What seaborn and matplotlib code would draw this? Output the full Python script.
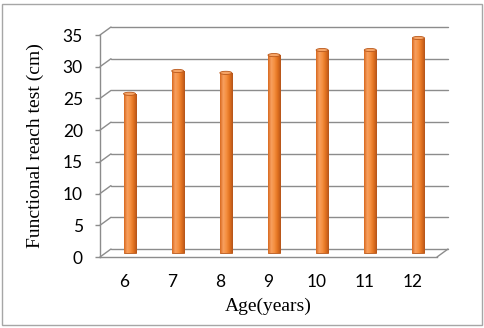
import numpy as np
import matplotlib
matplotlib.use("Agg")
import matplotlib.pyplot as plt
import matplotlib.transforms as mtransforms
from matplotlib.patches import Ellipse, Rectangle
from matplotlib.colors import LinearSegmentedColormap
import seaborn as sns

# Data
ages = ["6", "7", "8", "9", "10", "11", "12"]
reach_cm = [25.1, 28.7, 28.4, 31.2, 32.0, 32.0, 33.9]
y_ticks = [0, 5, 10, 15, 20, 25, 30, 35]

sns.set_theme(style="white")
plt.rcParams["font.family"] = ["Lato", "DejaVu Sans"]

fig = plt.figure(figsize=(4.85, 3.28), dpi=100)
# front plane of the pseudo-3D box
ax = fig.add_axes([100 / 485, 71 / 328, 337 / 485, 222 / 328])
ax.set_facecolor("none")

grid_col = "#8c8c8c"
depth = (11, 8)  # back wall offset in pixels

sns.barplot(x=ages, y=reach_cm, order=ages, color="#f28a36", width=0.25,
            edgecolor="#b9581b", linewidth=0.6, ax=ax, zorder=3)
ax.set_xlim(-0.5, 6.5)
ax.set_ylim(0, 35)

# back wall gridlines
back = mtransforms.offset_copy(ax.get_yaxis_transform(), fig=fig,
                               x=depth[0], y=depth[1], units="dots")
front = ax.get_yaxis_transform()
for t in y_ticks:
    ax.plot([0, 1], [t, t], transform=back, color=grid_col, lw=1.0,
            clip_on=False, zorder=1)

# diagonals (front axis -> back wall)
def diagonal(xa, t):
    p0 = front.transform((xa, t))
    p1 = back.transform((xa, t))
    fig.add_artist(plt.Line2D([p0[0], p1[0]], [p0[1], p1[1]],
                              transform=None, color=grid_col, lw=1.0))

for t in y_ticks:
    diagonal(0, t)
diagonal(1, 0)

# bars sit half way into the box, with cylinder shading
mid = mtransforms.offset_copy(ax.transData, fig=fig, x=depth[0] / 2,
                              y=depth[1] / 2, units="dots")
shade = LinearSegmentedColormap.from_list(
    "cyl", ["#d8691f", "#f7a060", "#f58f3f", "#e1711f", "#b4541a"])
grad = np.linspace(0, 1, 64).reshape(1, -1)
for bar in ax.patches:
    bar.set_transform(mid)
    x, w, h = bar.get_x(), bar.get_width(), bar.get_height()
    im = ax.imshow(grad, cmap=shade, aspect="auto", extent=[x, x + w, 0, h],
                   transform=mid, zorder=3.5, clip_on=True)
    im.set_clip_path(bar)
    ax.add_patch(Ellipse((x + w / 2, h), w, 0.5, transform=mid,
                         facecolor="#f6a466", edgecolor="#b9581b",
                         lw=0.6, zorder=4))
ax.set_xlim(-0.5, 6.5)
ax.set_ylim(0, 35)

for s in ["top", "right"]:
    ax.spines[s].set_visible(False)
for s in ["left", "bottom"]:
    ax.spines[s].set_color(grid_col)
    ax.spines[s].set_linewidth(1.0)

ax.set_yticks(y_ticks)
ax.tick_params(axis="y", left=True, length=3.3, width=1.0, color=grid_col,
               pad=9, labelsize=12.5, labelcolor="black")
ax.tick_params(axis="x", bottom=False, pad=6, labelsize=12.5,
               labelcolor="black")

ax.set_ylabel("Functional reach test (cm)", family="Liberation Serif",
              fontsize=14, color="black")
ax.set_xlabel("Age(years)", family="Liberation Serif", fontsize=14,
              color="black")
ax.yaxis.set_label_coords(-0.165, 0.5)
ax.xaxis.set_label_coords(0.5, -0.185)

# chart border
fig.add_artist(Rectangle((2 / 485, 3 / 328), 480 / 485, 321 / 328,
                         transform=fig.transFigure, fill=False,
                         edgecolor="#a6a6a6", lw=1.0))

fig.savefig("out.png", dpi=100)
